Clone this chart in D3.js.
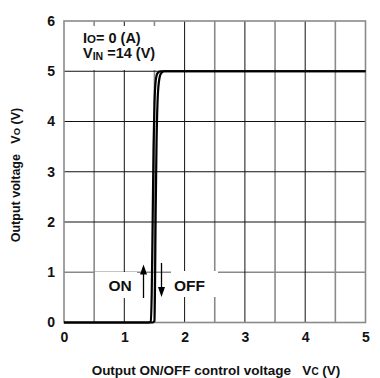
<!DOCTYPE html>
<html><head><meta charset="utf-8">
<script src="https://cdn.jsdelivr.net/npm/d3@7"></script>
<style>body{margin:0;background:#fff}svg{display:block}text{font-family:"Liberation Sans",Arial,sans-serif;font-weight:bold;fill:#111}</style>
</head><body><svg id="c" width="380" height="378"></svg>
<script>
// data
const xTicks = [0, 1, 2, 3, 4, 5];
const yTicks = [0, 1, 2, 3, 4, 5, 6];
const xGridBlack = [1, 2, 3, 4];
const xGridGrey = [0.5, 1.5, 2.5, 3.5, 4.5];
const yGridBlack = [2, 3, 4, 5];
const yGridGrey = [1];
const onVc = [0, 1.40, 1.44, 1.455, 1.47, 1.485, 1.50, 1.52, 1.55, 1.60, 5];
const onVo = [0, 0, 0.02, 0.6, 2.0, 3.5, 4.35, 4.8, 4.96, 5, 5];
const offVc = [0, 1.47, 1.50, 1.51, 1.52, 1.535, 1.55, 1.575, 1.61, 1.66, 5];
const offVo = [0, 0, 0.03, 0.8, 2.2, 3.6, 4.35, 4.8, 4.96, 5, 5];

const svg = d3.select("#c");
const x = d3.scaleLinear().domain([0, 5]).range([64, 365.5]);
const y = d3.scaleLinear().domain([0, 6]).range([322.5, 21]);

const g = svg.append("g");
g.selectAll(".vg").data(xGridGrey).join("line")
  .attr("x1", d => x(d)).attr("x2", d => x(d)).attr("y1", y(0)).attr("y2", y(6))
  .attr("stroke", "#8a8a8a").attr("stroke-width", 1.6);
g.selectAll(".hg").data(yGridGrey).join("line")
  .attr("x1", x(0)).attr("x2", x(5)).attr("y1", d => y(d)).attr("y2", d => y(d))
  .attr("stroke", "#8a8a8a").attr("stroke-width", 1.6);
g.selectAll(".vb").data(xGridBlack).join("line")
  .attr("x1", d => x(d)).attr("x2", d => x(d)).attr("y1", y(0)).attr("y2", y(6))
  .attr("stroke", "#111").attr("stroke-width", 1);
g.selectAll(".hb").data(yGridBlack).join("line")
  .attr("x1", x(0)).attr("x2", x(5)).attr("y1", d => y(d)).attr("y2", d => y(d))
  .attr("stroke", "#111").attr("stroke-width", 1);
g.append("rect").attr("x", x(0)).attr("y", y(6)).attr("width", x(5) - x(0)).attr("height", y(0) - y(6))
  .attr("fill", "none").attr("stroke", "#8a8a8a").attr("stroke-width", 1.6);

// white label boxes
g.append("rect").attr("x", 67).attr("y", 26).attr("width", 92).attr("height", 44).attr("fill", "#fff");
g.append("rect").attr("x", 95).attr("y", 272).attr("width", 42).attr("height", 26).attr("fill", "#fff");
g.append("rect").attr("x", 171).attr("y", 271).attr("width", 47).attr("height", 26).attr("fill", "#fff");

// curves
const line = d3.line().x(d => x(d[0])).y(d => y(d[1])).curve(d3.curveMonotoneX);
const onPts = onVc.map((v, i) => [v, onVo[i]]);
const offPts = offVc.map((v, i) => [v, offVo[i]]);
[onPts, offPts].forEach(p => {
  g.append("path").attr("d", line(p)).attr("fill", "none").attr("stroke", "#000")
    .attr("stroke-width", 2.2).attr("stroke-linejoin", "round");
});

// arrows
function arrow(xp, yFrom, yTo) {
  const dir = yTo > yFrom ? 1 : -1;
  g.append("line").attr("x1", xp).attr("x2", xp).attr("y1", yFrom).attr("y2", yTo - dir * 9)
    .attr("stroke", "#000").attr("stroke-width", 1.3);
  g.append("path").attr("d", `M${xp - 3.5},${yTo - dir * 10} L${xp + 3.5},${yTo - dir * 10} L${xp},${yTo} Z`).attr("fill", "#000");
}
arrow(143.5, 298, 264.5);
arrow(161.5, 263, 297);

// texts
g.append("text").attr("x", 120).attr("y", 291).attr("text-anchor", "middle").attr("font-size", 15.5).text("ON");
g.append("text").attr("x", 174).attr("y", 291).attr("font-size", 15.5).text("OFF");

const t1 = g.append("text").attr("x", 83).attr("y", 43).attr("font-size", 14.5);
t1.append("tspan").text("I");
t1.append("tspan").attr("font-size", 11.5).text("O");
t1.append("tspan").text("= 0 (A)");
const t2 = g.append("text").attr("x", 83).attr("y", 58).attr("font-size", 14.5);
t2.append("tspan").text("V");
t2.append("tspan").attr("font-size", 10.5).attr("dy", 1.5).text("IN");
t2.append("tspan").attr("dy", -1.5).text(" =14 (V)");

// axes tick labels
const ax = g.append("g").attr("transform", `translate(0,${y(0)})`)
  .call(d3.axisBottom(x).tickValues(xTicks).tickSize(0).tickPadding(10).tickFormat(d3.format("d")));
ax.select(".domain").remove();
ax.selectAll("text").attr("font-size", 14).attr("font-family", "Liberation Sans, Arial, sans-serif").attr("fill", "#111");
const ay = g.append("g").attr("transform", `translate(${x(0)},0)`)
  .call(d3.axisLeft(y).tickValues(yTicks).tickSize(0).tickPadding(9).tickFormat(d3.format("d")));
ay.select(".domain").remove();
ay.selectAll("text").attr("font-size", 14).attr("font-family", "Liberation Sans, Arial, sans-serif").attr("fill", "#111");

// axis titles
const xt = g.append("text").attr("x", 216).attr("y", 375).attr("text-anchor", "middle").attr("font-size", 13.5);
xt.append("tspan").text("Output ON/OFF control voltage\u00a0\u00a0\u00a0V");
xt.append("tspan").attr("font-size", 10).text("C");
xt.append("tspan").text(" (V)");
const yt = g.append("text").attr("transform", "translate(20,175) rotate(-90)").attr("text-anchor", "middle").attr("font-size", 12.5);
yt.append("tspan").text("Output voltage\u00a0\u00a0\u00a0V");
yt.append("tspan").attr("font-size", 9.5).text("O");
yt.append("tspan").text(" (V)");
</script></body></html>
